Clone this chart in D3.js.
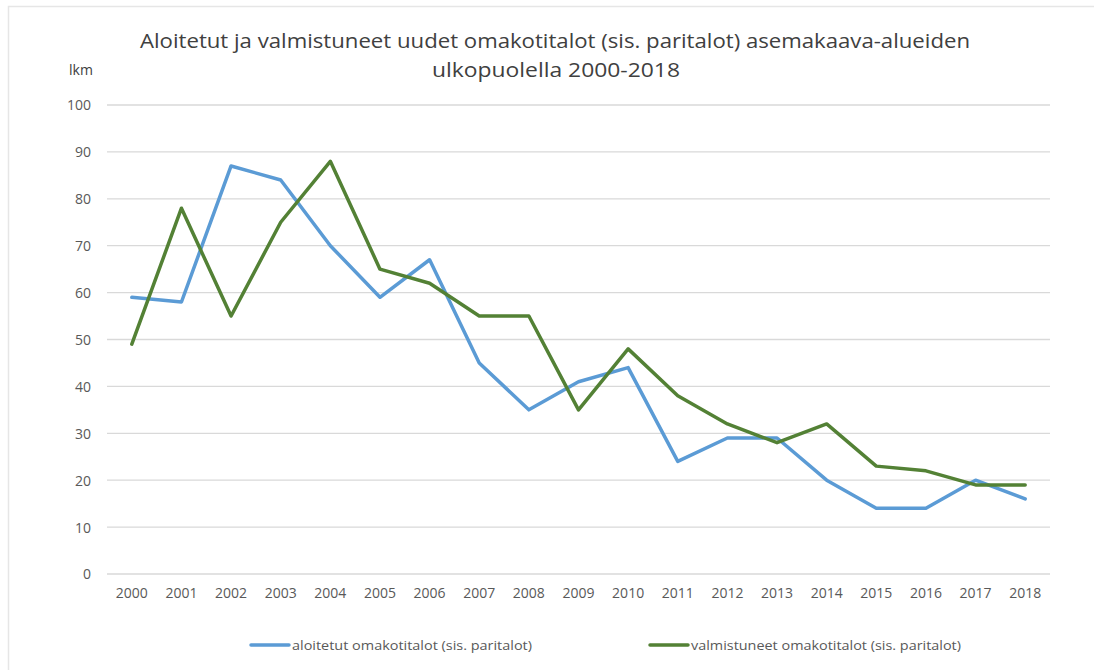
<!DOCTYPE html>
<html><head><meta charset="utf-8">
<script src="https://cdn.jsdelivr.net/npm/d3@7"></script>
<style>body{margin:0;background:#fff;}svg{display:block;}</style>
</head><body>
<svg id="c" width="1094" height="670"></svg>
<script>
const years = ["2000","2001","2002","2003","2004","2005","2006","2007","2008","2009","2010","2011","2012","2013","2014","2015","2016","2017","2018"];
const aloitetut = [59,58,87,84,70,59,67,45,35,41,44,24,29,29,20,14,14,20,16];
const valmistuneet = [49,78,55,75,88,65,62,55,55,35,48,38,32,28,32,23,22,19,19];
const yTicks = [0,10,20,30,40,50,60,70,80,90,100];
const titleLines = ["Aloitetut ja valmistuneet uudet omakotitalot (sis. paritalot) asemakaava-alueiden","ulkopuolella 2000-2018"];
const seriesNames = ["aloitetut omakotitalot (sis. paritalot)","valmistuneet omakotitalot (sis. paritalot)"];
const colors = ["#5B9BD5","#538135"];

const svg = d3.select("#c");
const font = "'Open Sans', 'DejaVu Sans', sans-serif";
const textCol = "#595959";

// frame
svg.append("rect").attr("x",8.5).attr("y",6.5).attr("width",1100).attr("height",700)
  .attr("fill","none").attr("stroke","#e6e6e6").attr("stroke-width",1.5);

const x = d3.scaleBand().domain(years).range([107,1050]);
const y = d3.scaleLinear().domain([0,100]).range([574,105]);

// grid
const g = svg.append("g");
g.selectAll("line.grid").data(yTicks).join("line")
  .attr("x1",107).attr("x2",1050)
  .attr("y1",d=>y(d)).attr("y2",d=>y(d))
  .attr("stroke","#d9d9d9").attr("stroke-width",1.3);

// y axis labels
const yAxis = d3.axisLeft(y).tickValues(yTicks).tickSize(0).tickPadding(0);
const ya = svg.append("g").attr("transform","translate(91,0)").call(yAxis);
ya.select(".domain").remove();
ya.selectAll("text").attr("font-family",font).attr("font-size",14).attr("fill",textCol).attr("dy","0.35em");

// x axis labels
const xAxis = d3.axisBottom(x).tickSize(0).tickPadding(0);
const xa = svg.append("g").attr("transform","translate(0,588)").call(xAxis);
xa.select(".domain").remove();
xa.selectAll("text").attr("font-family",font).attr("font-size",14).attr("fill",textCol).attr("dy","0.71em");

// lines
const line = d3.line().x((d,i)=>x(years[i])+x.bandwidth()/2).y(d=>y(d));
[aloitetut, valmistuneet].forEach((s,k)=>{
  svg.append("path").datum(s).attr("d",line).attr("fill","none")
    .attr("stroke",colors[k]).attr("stroke-width",3.5)
    .attr("stroke-linejoin","round").attr("stroke-linecap","round");
});

// title
svg.append("text").attr("x",555).attr("y",48).attr("text-anchor","middle")
  .attr("font-family",font).attr("font-size",20).attr("fill","#404040")
  .attr("textLength",830).attr("lengthAdjust","spacingAndGlyphs").text(titleLines[0]);
svg.append("text").attr("x",556).attr("y",77).attr("text-anchor","middle")
  .attr("font-family",font).attr("font-size",20).attr("fill","#404040")
  .attr("textLength",248).attr("lengthAdjust","spacingAndGlyphs").text(titleLines[1]);

// unit label
svg.append("text").attr("x",69).attr("y",75).attr("font-family",font).attr("font-size",14)
  .attr("fill","#404040").text("lkm");

// legend
const legX = [251,650], legTextLen = [240,270];
seriesNames.forEach((n,k)=>{
  svg.append("line").attr("x1",legX[k]).attr("x2",legX[k]+38).attr("y1",645).attr("y2",645)
    .attr("stroke",colors[k]).attr("stroke-width",3.5).attr("stroke-linecap","round");
  svg.append("text").attr("x",legX[k]+41).attr("y",645).attr("dy","0.35em")
    .attr("font-family",font).attr("font-size",13.5).attr("fill",textCol)
    .attr("textLength",legTextLen[k]).attr("lengthAdjust","spacingAndGlyphs").text(n);
});
</script>
</body></html>
